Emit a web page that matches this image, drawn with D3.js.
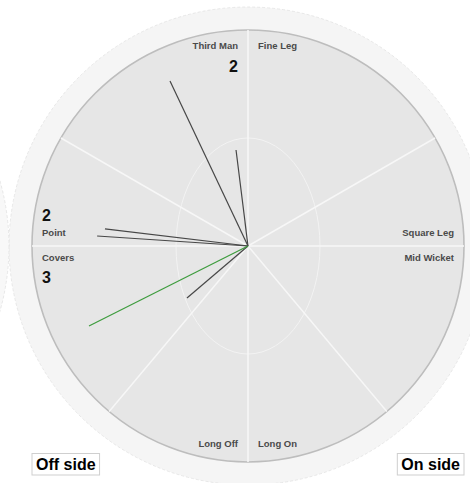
<!DOCTYPE html>
<html>
<head>
<meta charset="utf-8">
<script src="https://cdn.jsdelivr.net/npm/d3@7"></script>
<style>
  html, body { margin: 0; padding: 0; background: #ffffff; }
  svg { display: block; font-family: "Liberation Sans", Arial, Helvetica, sans-serif; }
</style>
</head>
<body>
<svg id="chart" width="470" height="483"></svg>
<script>
// ---- data ----
// Field regions (clockwise from straight up, degrees)
const regions = ["Fine Leg", "Square Leg", "Mid Wicket", "Long On", "Long Off", "Covers", "Point", "Third Man"];
const regionStart = [0, 60, 90, 140, 180, 220, 270, 300];
const regionEnd   = [60, 90, 140, 180, 220, 270, 300, 360];
// Runs/shots count labels shown per region
const countRegions = ["Third Man", "Point", "Covers"];
const countValues  = [2, 2, 3];
// Shots: angle (deg, clockwise from up; negative = off side), distance (% of boundary), type
const shotAngles    = [-25.3, -7.1, -83.2, -86.2, -130.4, -116.7];
const shotDistances = [84.5, 44.8, 66.7, 70.0, 37.1, 82.4];
const shotTypes     = ["run", "run", "run", "run", "run", "four"];
const sideLabels = ["Off side", "On side"];

// ---- layout ----
const svg = d3.select("#chart");
const cx = 248, cy = 246, R = 216, outerR = 239;

const rScale = d3.scaleLinear().domain([0, 100]).range([0, R]);
const aScale = d3.scaleLinear().domain([0, 360]).range([0, 2 * Math.PI]);
const colorScale = d3.scaleOrdinal().domain(["run", "four"]).range(["#474747", "#3d9c3d"]);

const g = svg.append("g").attr("transform", `translate(${cx},${cy})`);

// neighbouring faint circle edge on the far left
svg.append("circle")
  .attr("cx", cx - 2 * outerR).attr("cy", cy).attr("r", outerR)
  .attr("fill", "#f8f8f8").attr("stroke", "#dedede").attr("stroke-width", 0.7)
  .attr("stroke-dasharray", "3,2");

// outer ring
g.append("circle").attr("r", outerR)
  .attr("fill", "#f5f5f5").attr("stroke", "#e0e0e0").attr("stroke-width", 0.7)
  .attr("stroke-dasharray", "3,2");

// field
g.append("circle").attr("r", R)
  .attr("fill", "#e6e6e6").attr("stroke", "#bdbdbd").attr("stroke-width", 1.6);

// inner circle (30-yard) as ellipse
g.append("ellipse").attr("rx", 72).attr("ry", 108)
  .attr("fill", "none").attr("stroke", "#f3f3f3").attr("stroke-width", 1);

// sector boundary lines
const pt = (angDeg, dist) => {
  const a = aScale(angDeg);
  return [Math.sin(a) * rScale(dist), -Math.cos(a) * rScale(dist)];
};
g.selectAll("line.sector").data(regionStart).enter().append("line")
  .attr("class", "sector")
  .attr("x1", 0).attr("y1", 0)
  .attr("x2", d => pt(d, 100)[0]).attr("y2", d => pt(d, 100)[1])
  .attr("stroke", "#f7f7f7").attr("stroke-width", 1.5);

// shots
const shots = shotAngles.map((a, i) => ({ a, d: shotDistances[i], t: shotTypes[i] }));
g.selectAll("line.shot").data(shots).enter().append("line")
  .attr("class", "shot")
  .attr("x1", 0).attr("y1", 0)
  .attr("x2", d => pt(d.a, d.d)[0]).attr("y2", d => pt(d.a, d.d)[1])
  .attr("stroke", d => colorScale(d.t)).attr("stroke-width", 1.2);

// region labels
function labelPos(name) {
  switch (name) {
    case "Third Man":  return { x: -10, y: -R + 19, anchor: "end" };
    case "Fine Leg":   return { x: 10, y: -R + 19, anchor: "start" };
    case "Point":      return { x: -R + 10, y: -10, anchor: "start" };
    case "Covers":     return { x: -R + 10, y: 15, anchor: "start" };
    case "Square Leg": return { x: R - 10, y: -10, anchor: "end" };
    case "Mid Wicket": return { x: R - 10, y: 15, anchor: "end" };
    case "Long Off":   return { x: -10, y: R - 15, anchor: "end" };
    case "Long On":    return { x: 10, y: R - 15, anchor: "start" };
  }
}
g.selectAll("text.region").data(regions).enter().append("text")
  .attr("class", "region")
  .attr("x", d => labelPos(d).x).attr("y", d => labelPos(d).y)
  .attr("text-anchor", d => labelPos(d).anchor)
  .attr("font-size", 9.5).attr("font-weight", "bold").attr("fill", "#4a4a4a")
  .text(d => d);

// count labels
function countPos(name) {
  const p = labelPos(name);
  if (name === "Third Man") return { x: p.x, y: p.y + 23, anchor: p.anchor };
  if (name === "Point") return { x: p.x, y: p.y - 15, anchor: p.anchor };
  return { x: p.x, y: p.y + 22, anchor: p.anchor };
}
g.selectAll("text.count").data(countRegions).enter().append("text")
  .attr("class", "count")
  .attr("x", d => countPos(d).x).attr("y", d => countPos(d).y)
  .attr("text-anchor", d => countPos(d).anchor)
  .attr("font-size", 16).attr("font-weight", "bold").attr("fill", "#111")
  .text((d, i) => countValues[i]);

// side labels
const sideG = svg.selectAll("g.side").data(sideLabels).enter().append("g").attr("class", "side");
sideG.each(function (d, i) {
  const s = d3.select(this);
  const t = s.append("text")
    .attr("font-size", 16).attr("font-weight", "bold").attr("fill", "#000")
    .attr("y", 470).text(d);
  const w = t.node().getComputedTextLength();
  const boxX = i === 0 ? cx - R : cx + R - (w + 8);
  t.attr("x", boxX + 4);
  s.insert("rect", "text")
    .attr("x", boxX).attr("y", 453.5).attr("width", w + 8).attr("height", 21.5)
    .attr("fill", "#fff").attr("stroke", "#cfcfcf").attr("stroke-width", 1);
});
</script>
</body>
</html>
